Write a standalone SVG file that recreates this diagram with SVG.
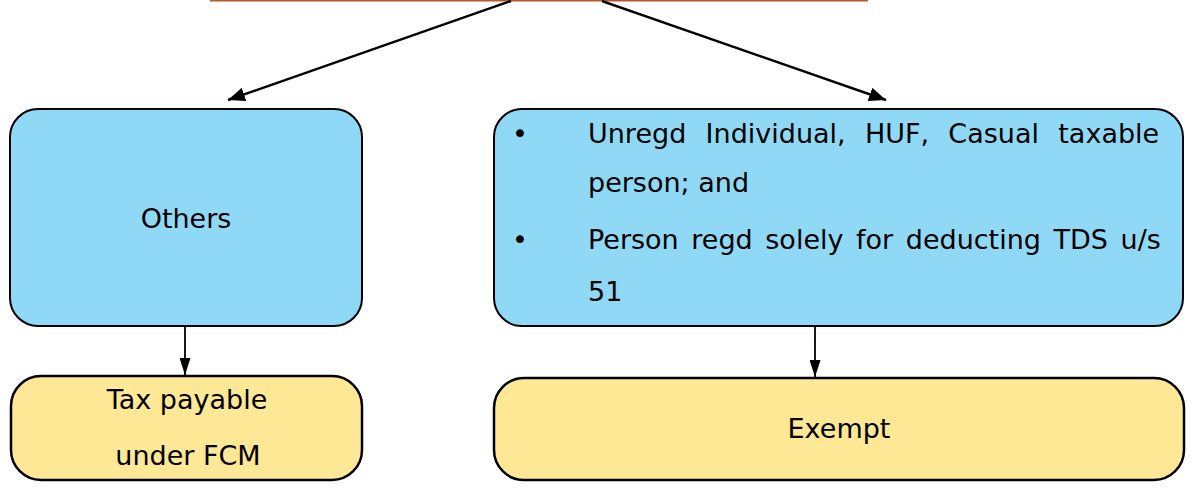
<svg xmlns="http://www.w3.org/2000/svg" width="1192" height="489" viewBox="0 0 1192 489">
<style>
.blue{fill:#8FD9F6;stroke:#000;stroke-width:2}
.yel{fill:#FFE895;stroke:#000;stroke-width:2.5}
.t{font-family:"DejaVu Sans",Verdana,sans-serif;font-size:27px;fill:#000}
.c{text-anchor:middle}
.conn{stroke:#000;fill:none}
</style>
<defs>
<marker id="ah" markerUnits="userSpaceOnUse" markerWidth="18" markerHeight="14" refX="17" refY="7" orient="auto">
<path d="M0,0 L17,7 L0,14 z" fill="#000"/>
</marker>
<marker id="av" markerUnits="userSpaceOnUse" markerWidth="18" markerHeight="11" refX="17" refY="5.5" orient="auto">
<path d="M0,0 L17,5.5 L0,11 z" fill="#000"/>
</marker>
</defs>
<rect width="1192" height="489" fill="#fff"/>
<line x1="210" y1="0.5" x2="868" y2="0.5" stroke="#B85A24" stroke-width="2"/>
<g id="connectors">
<line class="conn" x1="511" y1="1" x2="228" y2="100" stroke-width="2.4" marker-end="url(#ah)"/>
<line class="conn" x1="602" y1="1" x2="886" y2="100" stroke-width="2.4" marker-end="url(#ah)"/>
<line class="conn" x1="185" y1="327" x2="185" y2="375" stroke-width="1.8" marker-end="url(#av)"/>
<line class="conn" x1="815" y1="327" x2="815" y2="377" stroke-width="1.8" marker-end="url(#av)"/>
</g>
<g id="others">
<rect class="blue" x="10" y="109" width="352" height="217" rx="28"/>
<text class="t c" x="186" y="228">Others</text>
</g>
<g id="unregd">
<rect class="blue" x="494" y="109" width="689" height="217" rx="28"/>
<text class="t c" x="520" y="143">•</text>
<text class="t" x="588" y="143" word-spacing="10.7">Unregd Individual, HUF, Casual taxable</text>
<text class="t" x="588" y="192">person; and</text>
<text class="t c" x="520" y="249">•</text>
<text class="t" x="588" y="249" word-spacing="4">Person regd solely for deducting TDS u/s</text>
<text class="t" x="588" y="301">51</text>
</g>
<g id="taxpayable">
<rect class="yel" x="11" y="376" width="351" height="104" rx="30"/>
<text class="t c" x="187" y="409">Tax payable</text>
<text class="t c" x="188" y="465">under FCM</text>
</g>
<g id="exempt">
<rect class="yel" x="494" y="378" width="690" height="102" rx="30"/>
<text class="t c" x="839" y="438">Exempt</text>
</g>
</svg>
